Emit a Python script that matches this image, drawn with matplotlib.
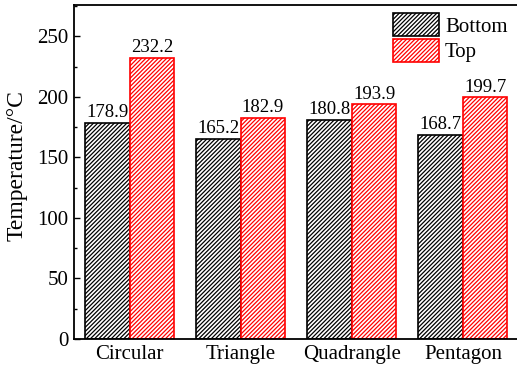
import matplotlib
matplotlib.use("Agg")
import matplotlib.pyplot as plt
import numpy as np
from matplotlib.ticker import MultipleLocator

plt.rcParams['font.family'] = ['Liberation Serif', 'DejaVu Serif']
plt.rcParams['hatch.linewidth'] = 0.9

categories = ["Circular", "Triangle", "Quadrangle", "Pentagon"]
bottom_vals = [178.9, 165.2, 180.8, 168.7]
top_vals = [232.2, 182.9, 193.9, 199.7]

fig = plt.figure(figsize=(5.17, 3.69), dpi=100)
ax = fig.add_axes([74 / 517, 1 - 339 / 369, (518.5 - 74) / 517, (339 - 5) / 369])

x = np.arange(len(categories))
w = 0.4
ax.bar(x - w / 2, bottom_vals, w, facecolor='white', edgecolor='black',
       hatch='////////', linewidth=1.2, label='Bottom')
ax.bar(x + w / 2, top_vals, w, facecolor='white', edgecolor='red',
       hatch='////////', linewidth=1.2, label='Top')

for xi, v in zip(x - w / 2, bottom_vals):
    ax.text(xi, v + 1.5, f"{v:.1f}", ha='center', va='bottom', fontsize=13.5)
for xi, v in zip(x + w / 2, top_vals):
    ax.text(xi, v + 1.5, f"{v:.1f}", ha='center', va='bottom', fontsize=13.5)

ax.set_xlim(-0.5, 3.5)
ax.set_ylim(0, 276)
ax.set_xticks(x)
ax.set_xticklabels(categories, fontsize=15)
ax.yaxis.set_major_locator(MultipleLocator(50))
ax.yaxis.set_minor_locator(MultipleLocator(25))
ax.tick_params(axis='y', which='major', direction='in', length=4, width=1, labelsize=15, pad=4)
ax.tick_params(axis='y', which='minor', direction='in', length=2.5, width=1)
ax.tick_params(axis='x', which='both', length=0, labelsize=15, pad=4)
for s in ax.spines.values():
    s.set_linewidth(1.3)
ax.set_ylabel("Temperature/°C", fontsize=17)
ax.yaxis.set_label_coords(-0.104, 0.52)

ax.legend(loc='upper left', bbox_to_anchor=((393 - 74) / 444.5, (339 - 13) / 334),
          frameon=False, fontsize=15, handlelength=2.2, handleheight=1.35,
          handletextpad=0.3, labelspacing=0.1, borderaxespad=0.0, borderpad=0.0)

fig.savefig("out.png", dpi=100)
